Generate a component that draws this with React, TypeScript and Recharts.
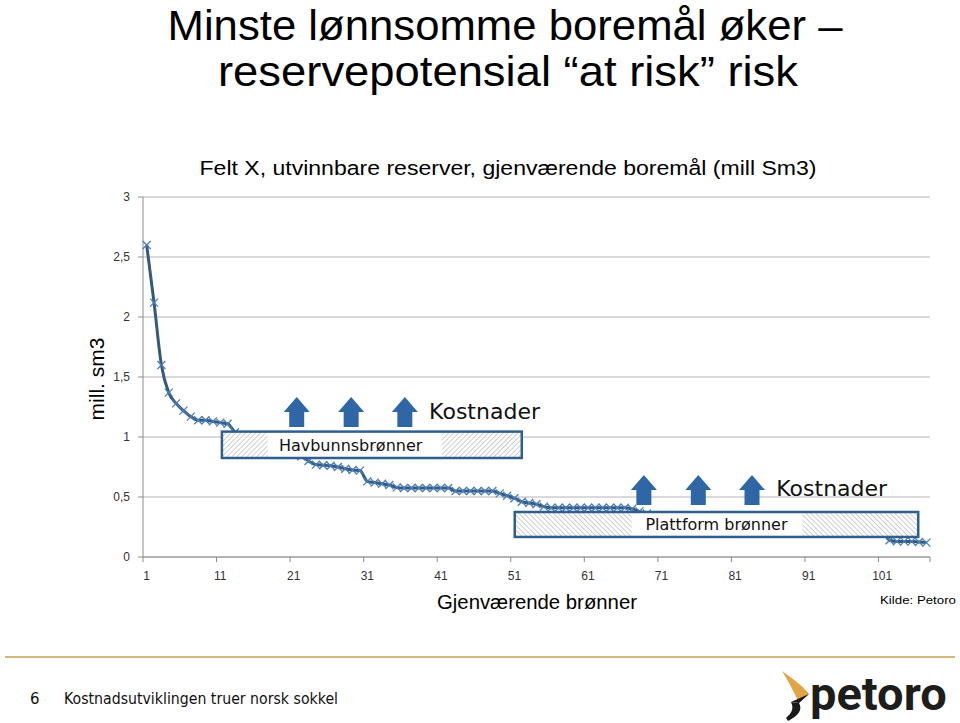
import { LineChart, Line, XAxis, YAxis, CartesianGrid, ReferenceArea, ReferenceDot } from 'recharts'

// reserves per remaining well, mill. Sm3
const reserves = [
  2.6, 2.12, 1.6, 1.37, 1.28, 1.22, 1.17, 1.14, 1.14, 1.13,
  1.12, 1.11, 1.04, 1.0, 0.97, 0.95, 0.93, 0.91, 0.89, 0.87,
  0.86, 0.84, 0.8, 0.77, 0.765, 0.76, 0.75, 0.735, 0.725, 0.72,
  0.63, 0.62, 0.61, 0.6, 0.58, 0.575, 0.575, 0.575, 0.575, 0.575,
  0.575, 0.575, 0.55, 0.55, 0.55, 0.55, 0.55, 0.55, 0.53, 0.51,
  0.49, 0.46, 0.45, 0.44, 0.42, 0.41, 0.41, 0.41, 0.41, 0.41,
  0.41, 0.41, 0.41, 0.41, 0.41, 0.41, 0.4, 0.38, 0.36, 0.35,
  0.34, 0.33, 0.32, 0.31, 0.3, 0.29, 0.28, 0.28, 0.27, 0.27,
  0.26, 0.26, 0.25, 0.25, 0.24, 0.24, 0.23, 0.23, 0.23, 0.22,
  0.22, 0.22, 0.21, 0.21, 0.21, 0.21, 0.21, 0.2, 0.2, 0.2,
  0.2, 0.14, 0.13, 0.13, 0.13, 0.125, 0.12,
]
const wells = reserves.map((_, i) => i + 1)

const yTicks = [0, 0.5, 1, 1.5, 2, 2.5, 3]
const xTickValues = [0.5, 10.5, 20.5, 30.5, 40.5, 50.5, 60.5, 70.5, 80.5, 90.5, 100.5, 107.5]
const xTickLabels = ['1', '11', '21', '31', '41', '51', '61', '71', '81', '91', '101', '']

// annotation positions in data units
const subseaArrows = [21.4, 28.8, 36.1]
const platformArrows = [68.6, 76.0, 83.3]

const data = wells.map((w, i) => ({ well: w, reserve: reserves[i] }))

const W = 960
const H = 723
const M = { top: 197, right: 30, bottom: 136, left: 103 }
const Y_AXIS_W = 40
const PLOT_W = W - M.left - M.right - Y_AXIS_W
const HALF_CAT = PLOT_W / wells.length / 2

const LINE = '#33597f'
const MARK = '#4a7dba'
const BOX = '#2f5f8f'
const ARROW = '#2f67a6'

const XTick = ({ x, y, payload }: any) => {
  const label = xTickLabels[xTickValues.indexOf(payload.value)]
  return (
    <text x={x + HALF_CAT} y={y} dy="0.71em" textAnchor="middle" fontSize={12} fill="#333"
      fontFamily="Liberation Sans, sans-serif">
      {label}
    </text>
  )
}

const Cross = (props: any) => {
  const { cx, cy } = props
  const s = 4
  return (
    <path
      key={`c-${props.index}`}
      d={`M${cx - s},${cy - s}L${cx + s},${cy + s}M${cx - s},${cy + s}L${cx + s},${cy - s}`}
      stroke={MARK}
      strokeWidth={1.3}
      fill="none"
    />
  )
}

const Arrow = ({ cx, cy }: any) => (
  <polygon
    points={`${cx},${cy - 15} ${cx + 13},${cy} ${cx + 7.5},${cy} ${cx + 7.5},${cy + 15} ${cx - 7.5},${cy + 15} ${cx - 7.5},${cy} ${cx - 13},${cy}`}
    fill={ARROW}
  />
)

const CostLabel = ({ cx, cy }: any) => (
  <text x={cx} y={cy} fontSize={22} fill="#111" fontFamily="DejaVu Sans, sans-serif">Kostnader</text>
)

const HatchBox = ({ x, y, width, height, id, dir, hatchL, hatchR, label, textAt, anchor }: any) => (
  <g>
    <defs>
      <pattern id={id} width={3.5} height={3.5} patternUnits="userSpaceOnUse" patternTransform={`rotate(${dir})`}>
        <line x1={0} y1={0} x2={0} y2={3.5} stroke="#9c9c9c" strokeWidth={1} />
      </pattern>
    </defs>
    <rect x={x} y={y} width={width} height={height} fill="#fff" />
    <rect x={x} y={y} width={width * hatchL} height={height} fill={`url(#${id})`} />
    <rect x={x + width * hatchR} y={y} width={width * (1 - hatchR)} height={height} fill={`url(#${id})`} />
    <rect x={x} y={y} width={width} height={height} fill="none" stroke={BOX} strokeWidth={2.5} />
    <text x={x + width * textAt} y={y + height / 2 + 6} textAnchor={anchor} fontSize={16} fill="#111"
      fontFamily="DejaVu Sans, sans-serif">
      {label}
    </text>
  </g>
)

function Overlay() {
  return (
    <svg width={W} height={H} style={{ position: 'absolute', left: 0, top: 0, pointerEvents: 'none' }}>
      <g fontFamily="Liberation Sans, Arial, sans-serif" fill="#000">
        <text x={505} y={40} textAnchor="middle" fontSize={42} textLength={675} lengthAdjust="spacingAndGlyphs">
          Minste lønnsomme boremål øker –
        </text>
        <text x={508} y={86} textAnchor="middle" fontSize={42} textLength={580} lengthAdjust="spacingAndGlyphs">
          reservepotensial “at risk” risk
        </text>
        <text x={508} y={175} textAnchor="middle" fontSize={20} textLength={617} lengthAdjust="spacingAndGlyphs">
          Felt X, utvinnbare reserver, gjenværende boremål  (mill Sm3)
        </text>
        <text x={104} y={379} textAnchor="middle" fontSize={21} transform="rotate(-90 104 379)">
          mill. sm3
        </text>
        <text x={537} y={609} textAnchor="middle" fontSize={20} textLength={200} lengthAdjust="spacingAndGlyphs">
          Gjenværende brønner
        </text>
        <text x={880} y={604} fontSize={11} textLength={76} lengthAdjust="spacingAndGlyphs">Kilde: Petoro</text>
      </g>
      <line x1={5} y1={657} x2={955} y2={657} stroke="#d6b679" strokeWidth={2} />
      <g fontFamily="DejaVu Sans, sans-serif" fill="#111" fontSize={15}>
        <text x={30} y={704}>6</text>
        <text x={64} y={704} textLength={274} lengthAdjust="spacingAndGlyphs">Kostnadsutviklingen truer norsk sokkel</text>
      </g>
      <path d="M782,671 C792,678 803,686 809,694 L799,703 C796,696 790,684 782,671 Z" fill="#e1a545" />
      <path d="M799,703 C803,710 798,716 788,721 L786,718 C792,713 794,708 791,702 Z" fill="#1a1a1a" />
      <path d="M791,702 L799,703 L809,694 Z" fill="#1a1a1a" />
      <text x={810} y={710} fontSize={47} fontWeight="bold" fill="#1d1d1b" fontFamily="Roboto, sans-serif">
        petoro
      </text>
    </svg>
  )
}

export default function App() {
  return (
    <div style={{ position: 'absolute', left: 0, top: 0, width: W, height: H, background: '#fff' }}>
      <LineChart width={W} height={H} data={data} margin={M}>
        <CartesianGrid vertical={false} stroke="#b4b4b4" />
        <XAxis
          dataKey="well"
          type="number"
          domain={[0.5, 107.5]}
          ticks={xTickValues}
          interval={0}
          height={30}
          tick={<XTick />}
          tickSize={5}
          tickMargin={9}
          stroke="#8c8c8c"
        />
        <YAxis
          domain={[0, 3]}
          ticks={yTicks}
          width={Y_AXIS_W}
          tickSize={5}
          tickMargin={8}
          stroke="#8c8c8c"
          tick={{ fontSize: 12, fill: '#333', fontFamily: 'Liberation Sans, sans-serif' }}
          tickFormatter={(v: number) => String(v).replace('.', ',')}
        />
        <Line
          type="monotone"
          dataKey="reserve"
          stroke={LINE}
          strokeWidth={3}
          dot={<Cross />}
          activeDot={false}
          isAnimationActive={false}
        />
        <ReferenceArea
          x1={11.23}
          x2={52.0}
          y1={0.825}
          y2={1.045}
          ifOverflow="visible"
          zIndex={1000}
          shape={(p: any) => (
            <HatchBox {...p} id="hatchSub" dir={45} hatchL={0.153} hatchR={0.733} label="Havbunnsbrønner"
              textAt={0.19} anchor="start" />
          )}
        />
        <ReferenceArea
          x1={51.04}
          x2={105.9}
          y1={0.167}
          y2={0.375}
          ifOverflow="visible"
          zIndex={1000}
          shape={(p: any) => (
            <HatchBox {...p} id="hatchPlat" dir={-45} hatchL={0.29} hatchR={0.713} label="Plattform brønner"
              textAt={0.5} anchor="middle" />
          )}
        />
        {subseaArrows.map((x) => (
          <ReferenceDot key={`s${x}`} x={x} y={1.208} r={1} ifOverflow="visible" zIndex={1000} shape={(p: any) => <Arrow {...p} />} />
        ))}
        {platformArrows.map((x) => (
          <ReferenceDot key={`p${x}`} x={x} y={0.558} r={1} ifOverflow="visible" zIndex={1000} shape={(p: any) => <Arrow {...p} />} />
        ))}
        <ReferenceDot x={39.4} y={1.15} r={1} ifOverflow="visible" zIndex={1000} shape={(p: any) => <CostLabel {...p} />} />
        <ReferenceDot x={86.6} y={0.508} r={1} ifOverflow="visible" zIndex={1000} shape={(p: any) => <CostLabel {...p} />} />
      </LineChart>
      <Overlay />
    </div>
  )
}
